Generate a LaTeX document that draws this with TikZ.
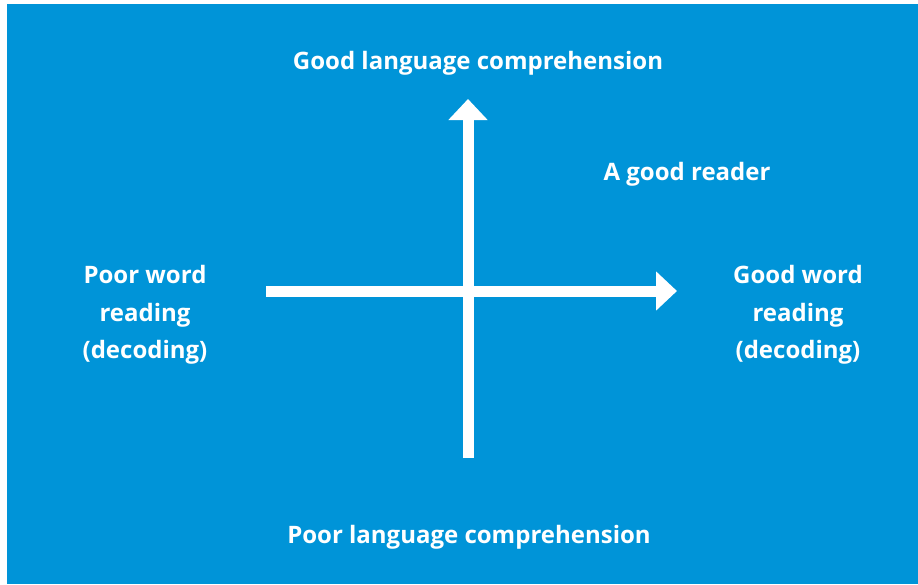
\documentclass[tikz,border=0pt]{standalone}
\usepackage{fontspec}
\setmainfont{Open Sans}
\usepackage{tikz}
\usetikzlibrary{arrows.meta}
\definecolor{quadblue}{RGB}{0,148,216}

\begin{document}
\begin{tikzpicture}[x=1pt,y=-1pt]
\tikzstyle{every node}=[text=white,font=\fontsize{24}{37.5}\selectfont\bfseries,align=center];
\tikzstyle{axis}=[draw=white,line width=11pt,-{Triangle[width=38pt,length=21pt]}];
\useasboundingbox (0,0) rectangle (918,584);
\fill[quadblue] (7,4) rectangle (918,584);
\coordinate (left) at (266,291);
\coordinate (right) at (677,291);
\coordinate (bottom) at (468,458);
\coordinate (top) at (468,99);
\draw[axis] (bottom) -- (top);
\draw[axis] (left) -- (right);
\node (goodlang) at (478,63) {Good language comprehension};
\node (poorlang) at (469,537) {Poor language comprehension};
\node (reader) at (687,174) {A good reader};
\node (poorword) at (145,315) {Poor word\\reading\\(decoding)};
\node (goodword) at (798,315) {Good word\\reading\\(decoding)};
\end{tikzpicture}
\end{document}
